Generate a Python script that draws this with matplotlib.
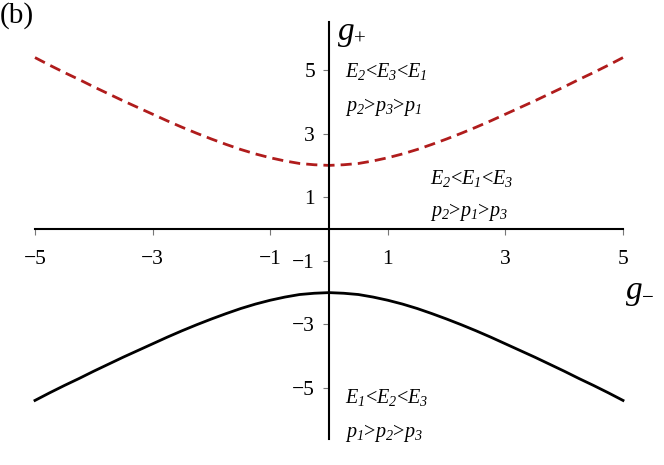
import matplotlib
matplotlib.use("Agg")
import matplotlib.pyplot as plt

plt.rcParams['font.family'] = ['Liberation Serif', 'DejaVu Serif']
plt.rcParams['mathtext.fontset'] = 'custom'
plt.rcParams['mathtext.rm'] = 'Liberation Serif:italic'
plt.rcParams['mathtext.it'] = 'Liberation Serif:italic'
plt.rcParams['mathtext.default'] = 'it'

# data
g_minus_half = [0, 0.25, 0.5, 0.75, 1, 1.25, 1.5, 1.75, 2, 2.25, 2.5, 2.75, 3,
                3.25, 3.5, 3.75, 4, 4.25, 4.5, 4.75, 5]
g_plus_half = [2.00, 2.02, 2.06, 2.14, 2.24, 2.36, 2.50, 2.66, 2.83, 3.01, 3.20,
               3.40, 3.61, 3.82, 4.03, 4.25, 4.47, 4.70, 4.92, 5.15, 5.39]
g_minus = [-v for v in g_minus_half[:0:-1]] + g_minus_half
g_plus_upper = g_plus_half[:0:-1] + g_plus_half
g_plus_lower = [-v for v in g_plus_upper]
xticks = [-5, -3, -1, 1, 3, 5]
yticks = [-5, -3, -1, 1, 3, 5]

fig = plt.figure(figsize=(6.64, 4.65), dpi=100)
ax = fig.add_axes([0, 0, 1, 1])
ax.set_xlim(-5.595, 5.697)
ax.set_ylim(-7.42, 7.20)

ax.plot(g_minus, g_plus_upper, color='#b01c1c', lw=2, ls=(0, (4, 2.2)))
ax.plot(g_minus, g_plus_lower, color='black', lw=2)

for s in ['top', 'right']:
    ax.spines[s].set_visible(False)
ax.spines['left'].set_position(('data', 0))
ax.spines['bottom'].set_position(('data', 0))
ax.spines['left'].set_bounds(-6.6, 6.5)
ax.spines['bottom'].set_bounds(-5, 5)
ax.spines['left'].set_linewidth(1.5)
ax.spines['bottom'].set_linewidth(1.5)

ax.set_xticks(xticks)
ax.set_yticks(yticks)
ax.set_xticklabels(['\u2212%d' % -v if v < 0 else str(v) for v in xticks])
ax.set_yticklabels(['\u2212%d' % -v if v < 0 else str(v) for v in yticks])
ax.tick_params(axis='x', direction='out', length=4, width=0.8, color='#777777',
               labelsize=15.5, pad=11)
ax.tick_params(axis='y', direction='out', length=4, width=0.8, color='#777777',
               labelsize=15.5, pad=6)

ax.text(0.0, 0.995, '(b)', transform=ax.transAxes, fontsize=21, va='top', ha='left')
ax.text(0.15, 6.2, 'g', fontsize=24, style='italic', va='center', ha='left')
ax.text(0.42, 5.95, '+', fontsize=15, va='center', ha='left')
ax.text(5.05, -1.95, 'g', fontsize=24, style='italic', va='center', ha='left')
ax.text(5.32, -2.2, '\u2212', fontsize=15, va='center', ha='left')

fs = 14.5
ax.text(0.27, 4.95, r'$E_2$<$E_3$<$E_1$', fontsize=fs, va='center', ha='left')
ax.text(0.27, 3.85, r'$p_2$>$p_3$>$p_1$', fontsize=fs, va='center', ha='left')
ax.text(1.72, 1.6, r'$E_2$<$E_1$<$E_3$', fontsize=fs, va='center', ha='left')
ax.text(1.72, 0.52, r'$p_2$>$p_1$>$p_3$', fontsize=fs, va='center', ha='left')
ax.text(0.27, -5.3, r'$E_1$<$E_2$<$E_3$', fontsize=fs, va='center', ha='left')
ax.text(0.27, -6.4, r'$p_1$>$p_2$>$p_3$', fontsize=fs, va='center', ha='left')

fig.savefig('out.png', dpi=100)
